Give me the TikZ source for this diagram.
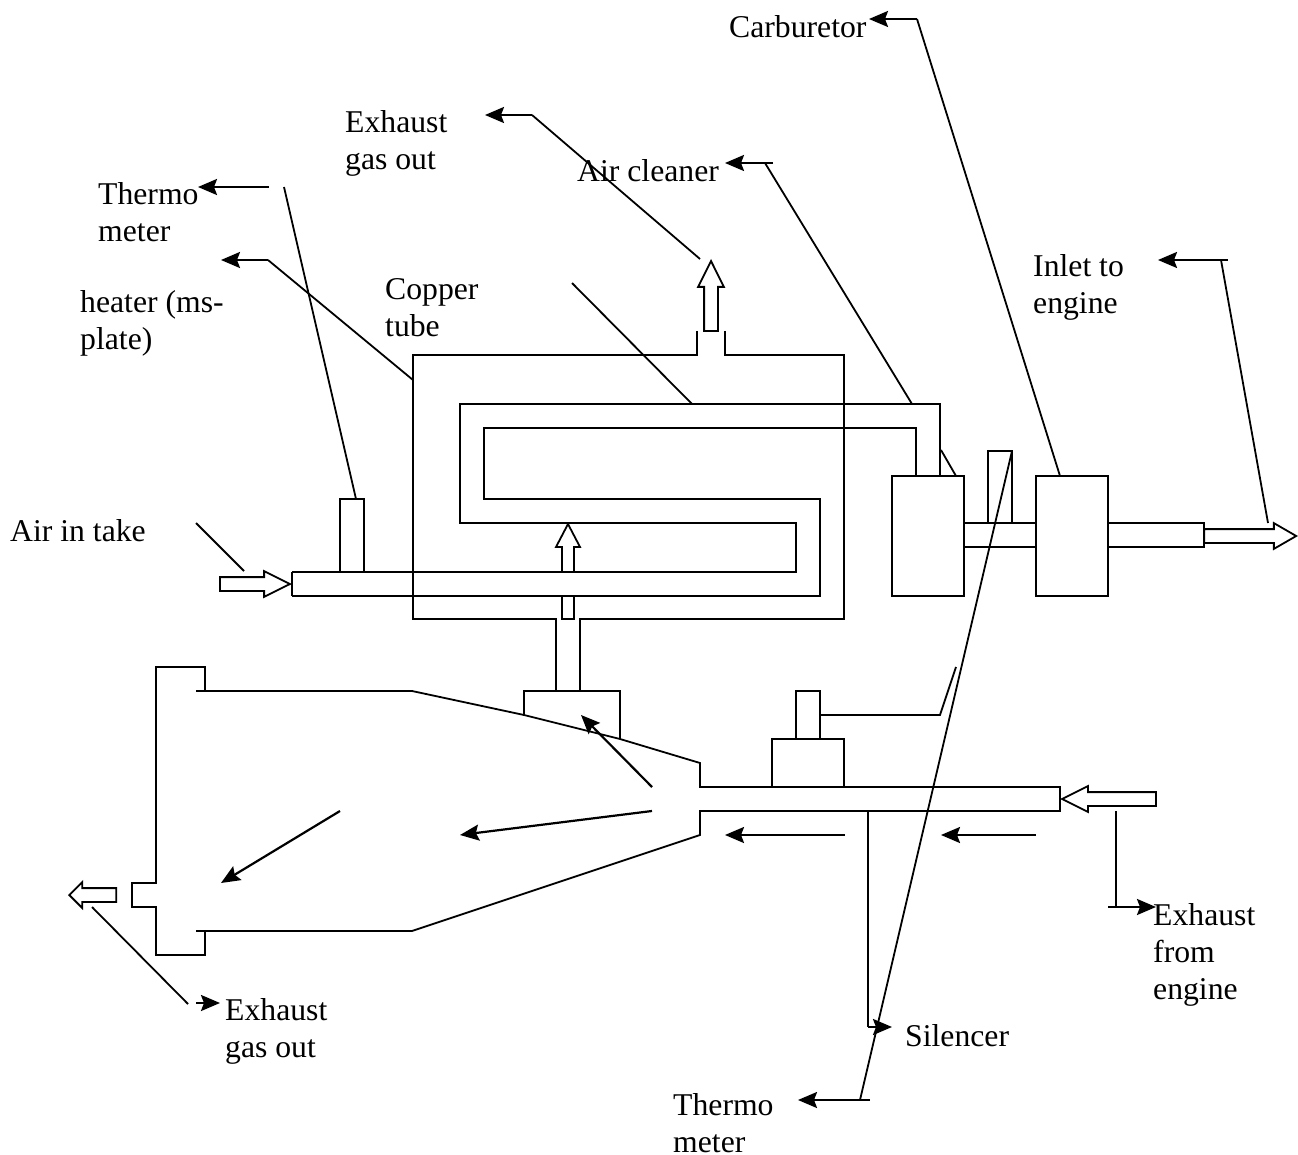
\documentclass[tikz,border=0pt]{standalone}
\usepackage{fontspec}
\setmainfont{Liberation Serif}
\usetikzlibrary{arrows.meta,shapes.arrows}
\tikzset{
  pipe/.style={line width=1.8pt},
  leader/.style={line width=1.8pt},
  tipline/.style={line width=2.2pt,-{Stealth[length=19pt,width=16pt,inset=3pt]}},
  label/.style={anchor=north west,inner sep=0pt,align=left,font=\fontsize{31.7}{37}\selectfont},
  hollow/.style={single arrow,draw,fill=white,line width=1.8pt,inner xsep=0pt,inner ysep=6pt,minimum width=24pt,
    single arrow head extend=6pt,single arrow tip angle=53,anchor=tip}
}
\begin{document}
\begin{tikzpicture}[x=1pt,y=-1pt]
      \useasboundingbox (0,0) rectangle (1298,1155);

      %% labels
      \node (carburetor) [label] at (729,15) {Carburetor};
      \node (gasouttop) [label] at (345,110) {Exhaust\\gas out};
      \node (cleaner) [label] at (577,159) {Air cleaner};
      \node (thermotop) [label] at (98,182) {Thermo\\meter};
      \node (heater) [label] at (80,290) {heater (ms-\\plate)};
      \node (copper) [label] at (385,278) {Copper\\tube};
      \node (inlet) [label] at (1033,254) {Inlet to\\engine};
      \node (intake) [label] at (10,519) {Air in take};
      \node (exhaustin) [label] at (1153,903) {Exhaust\\from\\engine};
      \node (gasoutlow) [label] at (225,998) {Exhaust\\gas out};
      \node (silencer) [label] at (905,1024) {Silencer};
      \node (thermolow) [label] at (673,1093) {Thermo\\meter};

      %% heater box and copper tube
      \draw[pipe] (697,331) -- (697,355) -| (413,619) -- (556,619) -- (556,691);
      \draw[pipe] (725,331) -- (725,355) -| (844,619) -- (580,619) -- (580,691);
      \draw[pipe] (292,572) -- (796,572) -- (796,523) -- (460,523) -- (460,404) -- (940,404) -- (940,476);
      \draw[pipe] (292,596) -- (820,596) -- (820,499) -- (484,499) -- (484,428) -- (916,428) -- (916,476);
      \draw[pipe] (292,572) -- (292,596);
      \draw[pipe] (340,572) |- (364,499) -- (364,572);

      %% cleaner, carburetor and inlet pipes
      \draw[pipe] (892,476) rectangle (964,596);
      \draw[pipe] (1036,476) rectangle (1108,596);
      \draw[pipe] (964,523) -- (1036,523);
      \draw[pipe] (964,547) -- (1036,547);
      \draw[pipe] (1108,523) -- (1204,523) -- (1204,547) -- (1108,547);
      \draw[pipe] (988,523) |- (1012,451) -- (1012,523);

      %% silencer
      \draw[pipe] (196,691) -- (412,691) -- (524,715) -- (620,739) -- (700,763) -- (700,787) -- (1060,787) -- (1060,811) -- (700,811) -- (700,835) -- (412,931) -- (196,931);
      \draw[pipe] (205,691) -- (205,667) -- (156,667) -- (156,883) -- (132,883) -- (132,907) -- (156,907) -- (156,955) -- (205,955) -- (205,931);
      \draw[pipe] (524,715) |- (620,691) -- (620,739);
      \draw[pipe] (772,787) |- (844,739) -- (844,787);
      \draw[pipe] (796,739) |- (820,691) -- (820,739);

      %% hollow flow arrows
      \node (outarrow) [hollow,rotate=90,minimum height=70pt] at (711,259) {};
      \node (intakearrow) [hollow,minimum height=70pt] at (292,584) {};
      \node (inletarrow) [hollow,minimum height=92pt,single arrow tip angle=60] at (1298,536) {};
      \node (exhaustarrow) [hollow,rotate=180,minimum height=94pt] at (1060,799) {};
      \node (gasoutarrow) [hollow,rotate=180,minimum height=47pt,single arrow tip angle=90] at (68,895) {};
      \draw[pipe] (562,572) -- (562,547) -- (556,547) -- (568,524) -- (580,547) -- (574,547) -- (574,572);
      \draw[pipe] (562,596) -- (562,619) -- (574,619) -- (574,596);

      %% flow inside silencer
      \draw[tipline] (340,811) -- (221,883);
      \draw[tipline] (652,787) -- (581,715);
      \draw[tipline] (652,811) -- (460,835);
      \draw[tipline] (845,835) -- (725,835);
      \draw[tipline] (1036,835) -- (941,835);

      %% leaders
      \coordinate (carbpt) at (1060,476);
      \coordinate (carbknee) at (917,19);
      \coordinate (carbtip) at (869,19);
      \draw[leader] (carbpt) -- (carbknee);
      \draw[tipline] (carbknee) -- (carbtip);

      \coordinate (outpt) at (700,259);
      \coordinate (outknee) at (532,115);
      \coordinate (outtip) at (485,115);
      \draw[leader] (outpt) -- (outknee);
      \draw[tipline] (outknee) -- (outtip);

      \coordinate (cleanpt) at (912,404);
      \coordinate (cleanknee) at (765,163);
      \coordinate (cleantip) at (725,163);
      \draw[leader] (cleanpt) -- (cleanknee);
      \draw[leader] (941,450) -- (956,476);
      \draw[tipline] (773,163) -- (cleantip);

      \coordinate (thermopt) at (356,499);
      \coordinate (thermoknee) at (284,187);
      \coordinate (thermotip) at (198,187);
      \draw[leader] (thermopt) -- (thermoknee);
      \draw[tipline] (269,187) -- (thermotip);

      \coordinate (heatpt) at (413,380);
      \coordinate (heatknee) at (268,260);
      \coordinate (heattip) at (221,260);
      \draw[leader] (heatpt) -- (heatknee);
      \draw[tipline] (heatknee) -- (heattip);

      \coordinate (inletpt) at (1268,523);
      \coordinate (inletknee) at (1221,260);
      \coordinate (inlettip) at (1158,260);
      \draw[leader] (inletpt) -- (inletknee);
      \draw[tipline] (1228,260) -- (inlettip);

      \draw[leader] (572,283) -- (692,404);
      \draw[leader] (196,523) -- (244,571);

      \coordinate (exhpt) at (1116,811);
      \coordinate (exhknee) at (1116,907);
      \coordinate (exhtip) at (1156,907);
      \draw[leader] (exhpt) -- (exhknee);
      \draw[tipline] (1108,907) -- (exhtip);

      \draw[leader] (92,907) -- (188,1004);
      \draw[tipline] (196,1003) -- (220,1003);

      \coordinate (silpt) at (868,811);
      \coordinate (silknee) at (868,1027);
      \coordinate (siltip) at (892,1027);
      \draw[leader] (silpt) -- (silknee);
      \draw[tipline] (silknee) -- (siltip);

      \draw[leader] (820,715) -- (940,715) -- (956,667);
      \coordinate (therpt) at (1012,451);
      \coordinate (therknee) at (860,1100);
      \coordinate (thertip) at (798,1100);
      \draw[leader] (therpt) -- (therknee);
      \draw[tipline] (870,1100) -- (thertip);
\end{tikzpicture}
\end{document}
